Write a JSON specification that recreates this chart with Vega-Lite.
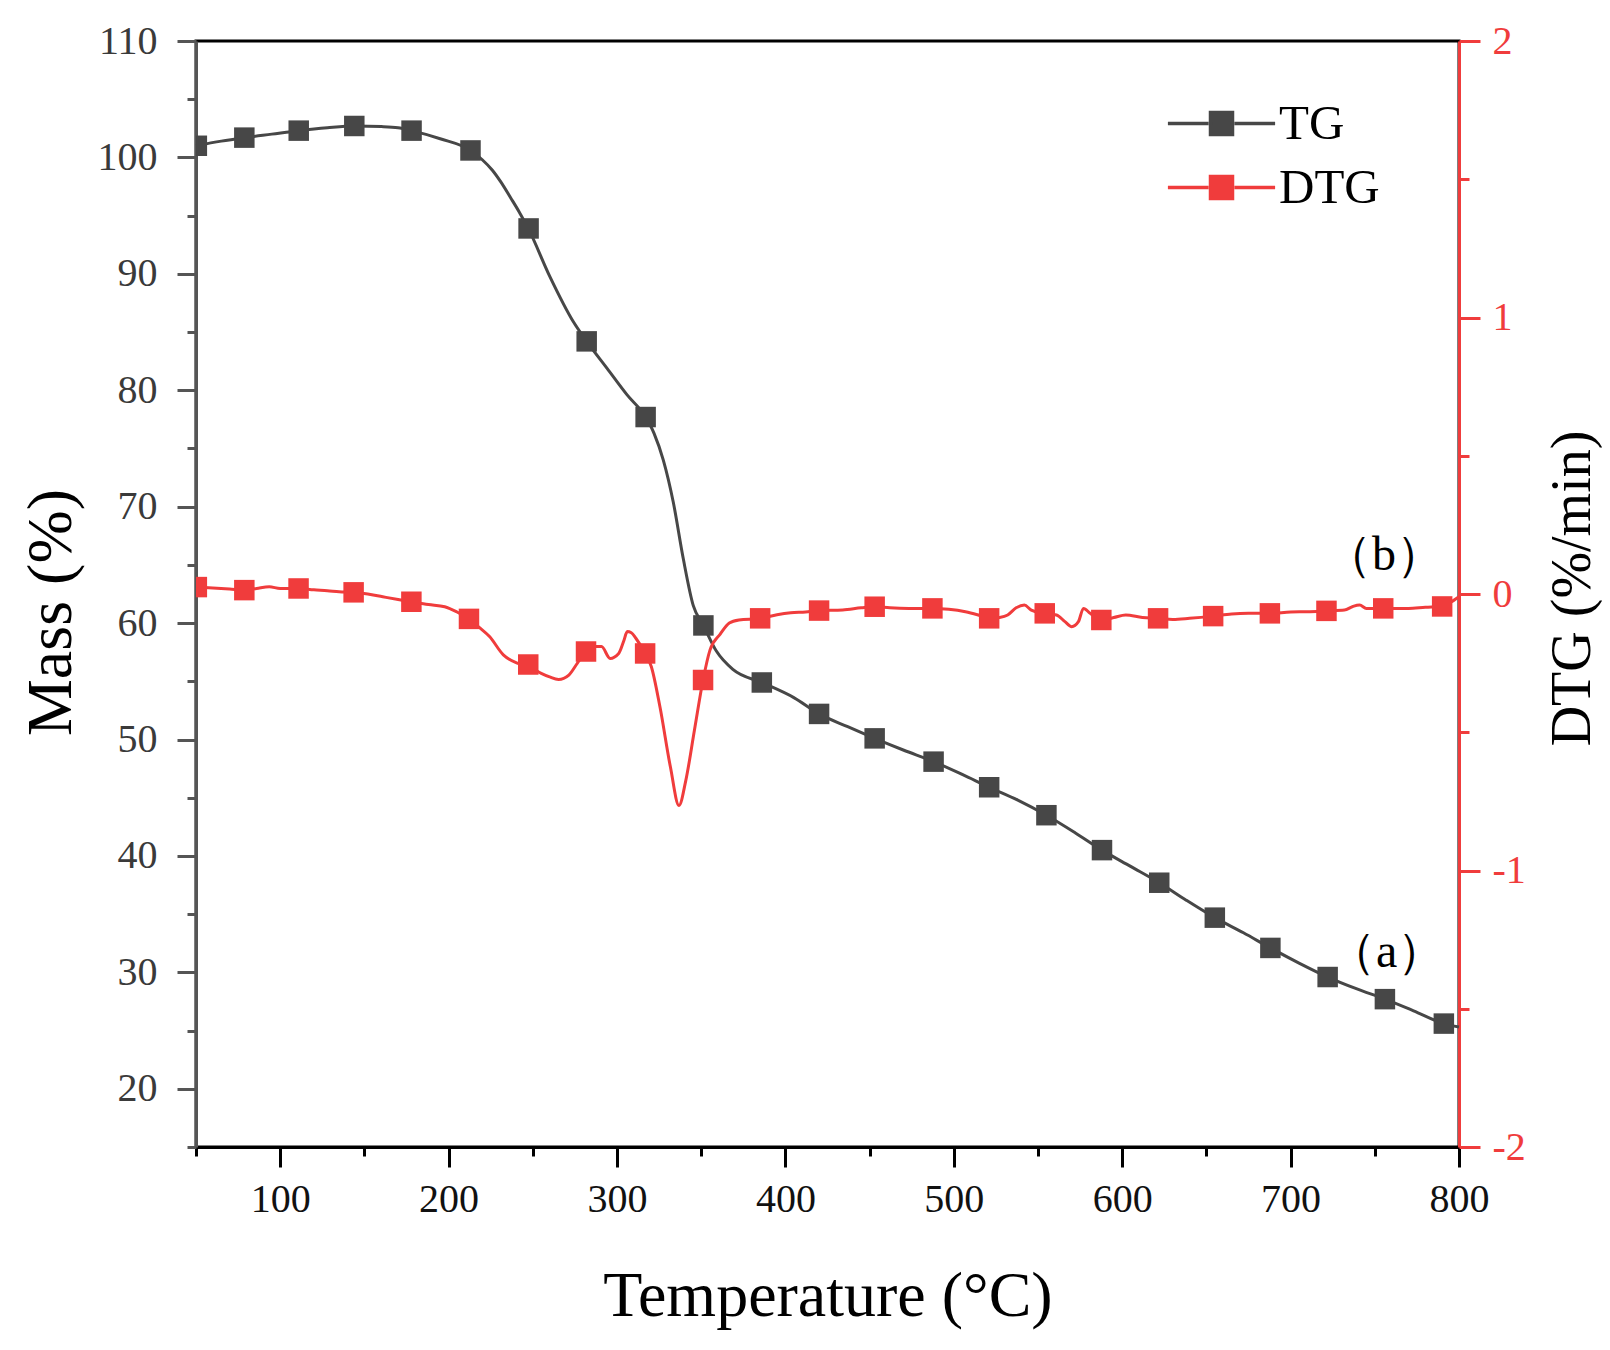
{
  "$schema": "https://vega.github.io/schema/vega-lite/v6.json",
  "width": 1263,
  "height": 1106,
  "autosize": {"type": "none"},
  "padding": {"left": 196, "top": 41, "right": 151, "bottom": 203},
  "config": {
    "view": {"stroke": "#000000", "strokeWidth": 3},
    "font": "Liberation Serif",
    "legend": {
      "orient": "none",
      "legendX": 1001,
      "legendY": 58,
      "padding": 0,
      "title": null,
      "symbolType": "M-2.68,0H-0.65M0.65,0H2.68M-0.55,-0.55H0.55V0.55H-0.55Z",
      "symbolSize": 1600,
      "symbolStrokeWidth": 3.5,
      "labelFont": "Liberation Serif",
      "labelFontSize": 49,
      "labelColor": "#000000",
      "labelOffset": 33,
      "rowPadding": 14
    }
  },
  "datasets": {
    "tg_curve": [
      {"T": 50, "mass": 101.0}, {"T": 65, "mass": 101.4}, {"T": 79, "mass": 101.7},
      {"T": 95, "mass": 102.0}, {"T": 111, "mass": 102.3}, {"T": 128, "mass": 102.55},
      {"T": 144, "mass": 102.7}, {"T": 160, "mass": 102.65}, {"T": 170, "mass": 102.55},
      {"T": 178, "mass": 102.3}, {"T": 195, "mass": 101.6}, {"T": 213, "mass": 100.6},
      {"T": 220, "mass": 99.8}, {"T": 226, "mass": 98.9}, {"T": 231, "mass": 97.9},
      {"T": 237, "mass": 96.5}, {"T": 242, "mass": 95.3},
      {"T": 247.3, "mass": 93.9}, {"T": 260, "mass": 89.8}, {"T": 274, "mass": 85.9},
      {"T": 282, "mass": 84.2}, {"T": 294, "mass": 81.9}, {"T": 306, "mass": 79.6},
      {"T": 317, "mass": 77.7}, {"T": 322, "mass": 76.3}, {"T": 327.5, "mass": 74.0},
      {"T": 333.4, "mass": 70.4}, {"T": 339.4, "mass": 65.5}, {"T": 345.3, "mass": 61.5},
      {"T": 351.3, "mass": 59.8}, {"T": 359, "mass": 57.6}, {"T": 369, "mass": 56.0},
      {"T": 386, "mass": 54.9}, {"T": 405, "mass": 53.6}, {"T": 420, "mass": 52.2},
      {"T": 437, "mass": 51.1}, {"T": 453, "mass": 50.1}, {"T": 470, "mass": 49.1},
      {"T": 488, "mass": 48.1}, {"T": 505, "mass": 47.0}, {"T": 521, "mass": 45.9},
      {"T": 538, "mass": 44.8}, {"T": 555, "mass": 43.5}, {"T": 572, "mass": 42.0},
      {"T": 588, "mass": 40.5}, {"T": 605, "mass": 39.1}, {"T": 622, "mass": 37.7},
      {"T": 638, "mass": 36.2}, {"T": 655, "mass": 34.7}, {"T": 672, "mass": 33.4},
      {"T": 688, "mass": 32.1}, {"T": 705, "mass": 30.8}, {"T": 722, "mass": 29.6},
      {"T": 739, "mass": 28.6}, {"T": 756, "mass": 27.7}, {"T": 773, "mass": 26.7},
      {"T": 791, "mass": 25.6}, {"T": 800, "mass": 25.3}
    ],
    "tg_marks": [
      {"T": 50.5, "mass": 101.0}, {"T": 78.7, "mass": 101.7}, {"T": 111, "mass": 102.3},
      {"T": 144, "mass": 102.7}, {"T": 178, "mass": 102.3}, {"T": 213, "mass": 100.6},
      {"T": 247.5, "mass": 93.9}, {"T": 282, "mass": 84.2}, {"T": 317, "mass": 77.7},
      {"T": 351.3, "mass": 59.8}, {"T": 386, "mass": 54.9}, {"T": 420, "mass": 52.2},
      {"T": 453, "mass": 50.1}, {"T": 488, "mass": 48.1}, {"T": 521, "mass": 45.9},
      {"T": 555, "mass": 43.5}, {"T": 588, "mass": 40.5}, {"T": 622, "mass": 37.7},
      {"T": 655, "mass": 34.7}, {"T": 688, "mass": 32.1}, {"T": 722, "mass": 29.6},
      {"T": 756, "mass": 27.7}, {"T": 791, "mass": 25.6}
    ],
    "dtg_curve": [
      {"T": 50, "dtg": 0.025}, {"T": 60, "dtg": 0.022}, {"T": 70, "dtg": 0.018},
      {"T": 78.7, "dtg": 0.014}, {"T": 86, "dtg": 0.02}, {"T": 93.5, "dtg": 0.026},
      {"T": 100, "dtg": 0.02}, {"T": 110.9, "dtg": 0.02}, {"T": 120, "dtg": 0.015},
      {"T": 128, "dtg": 0.012}, {"T": 135, "dtg": 0.008}, {"T": 143.6, "dtg": 0.006},
      {"T": 152, "dtg": 0.0}, {"T": 160.9, "dtg": -0.01}, {"T": 170, "dtg": -0.02},
      {"T": 177.9, "dtg": -0.028}, {"T": 188, "dtg": -0.038}, {"T": 197.7, "dtg": -0.046},
      {"T": 205, "dtg": -0.065}, {"T": 212.1, "dtg": -0.09}, {"T": 218, "dtg": -0.12},
      {"T": 224.3, "dtg": -0.154}, {"T": 232.5, "dtg": -0.22}, {"T": 240.7, "dtg": -0.25},
      {"T": 247.3, "dtg": -0.26}, {"T": 255, "dtg": -0.287}, {"T": 260, "dtg": -0.3},
      {"T": 265.3, "dtg": -0.309}, {"T": 271.4, "dtg": -0.293}, {"T": 276.5, "dtg": -0.25},
      {"T": 281.6, "dtg": -0.21}, {"T": 286, "dtg": -0.19}, {"T": 290.8, "dtg": -0.19},
      {"T": 295.9, "dtg": -0.233}, {"T": 301, "dtg": -0.215}, {"T": 304, "dtg": -0.17},
      {"T": 306.1, "dtg": -0.136}, {"T": 308.5, "dtg": -0.14}, {"T": 311.2, "dtg": -0.16},
      {"T": 316.7, "dtg": -0.215}, {"T": 320.4, "dtg": -0.263}, {"T": 325.5, "dtg": -0.408},
      {"T": 331.7, "dtg": -0.625}, {"T": 336.8, "dtg": -0.765}, {"T": 340.9, "dtg": -0.673},
      {"T": 346, "dtg": -0.492}, {"T": 351.1, "dtg": -0.311}, {"T": 355.2, "dtg": -0.203},
      {"T": 361.3, "dtg": -0.145}, {"T": 366.7, "dtg": -0.105}, {"T": 372.4, "dtg": -0.094},
      {"T": 385, "dtg": -0.088}, {"T": 395, "dtg": -0.075}, {"T": 403.2, "dtg": -0.068},
      {"T": 412, "dtg": -0.065}, {"T": 420, "dtg": -0.06}, {"T": 434, "dtg": -0.058},
      {"T": 445, "dtg": -0.05}, {"T": 453, "dtg": -0.046}, {"T": 462, "dtg": -0.05},
      {"T": 473.3, "dtg": -0.052}, {"T": 487.3, "dtg": -0.052}, {"T": 497, "dtg": -0.055},
      {"T": 506.9, "dtg": -0.064}, {"T": 514, "dtg": -0.075}, {"T": 521, "dtg": -0.088},
      {"T": 527, "dtg": -0.085}, {"T": 532, "dtg": -0.076}, {"T": 537, "dtg": -0.05},
      {"T": 541.9, "dtg": -0.04}, {"T": 546, "dtg": -0.058}, {"T": 554, "dtg": -0.07},
      {"T": 561, "dtg": -0.076}, {"T": 566, "dtg": -0.1}, {"T": 570, "dtg": -0.118},
      {"T": 574, "dtg": -0.1}, {"T": 577, "dtg": -0.052}, {"T": 581, "dtg": -0.07},
      {"T": 587.6, "dtg": -0.094}, {"T": 595, "dtg": -0.085}, {"T": 602.1, "dtg": -0.076},
      {"T": 612, "dtg": -0.085}, {"T": 621.3, "dtg": -0.088}, {"T": 630, "dtg": -0.092},
      {"T": 640, "dtg": -0.088}, {"T": 654, "dtg": -0.08}, {"T": 665, "dtg": -0.072},
      {"T": 675, "dtg": -0.07}, {"T": 687.7, "dtg": -0.07}, {"T": 700, "dtg": -0.065},
      {"T": 710, "dtg": -0.064}, {"T": 721.3, "dtg": -0.061}, {"T": 732, "dtg": -0.058},
      {"T": 737, "dtg": -0.045}, {"T": 741, "dtg": -0.04}, {"T": 745, "dtg": -0.052},
      {"T": 755, "dtg": -0.052}, {"T": 770, "dtg": -0.052}, {"T": 780, "dtg": -0.048},
      {"T": 790, "dtg": -0.045}, {"T": 795, "dtg": -0.03}, {"T": 800, "dtg": -0.01}
    ],
    "dtg_marks": [
      {"T": 50.5, "dtg": 0.025}, {"T": 78.7, "dtg": 0.014}, {"T": 110.9, "dtg": 0.02},
      {"T": 143.6, "dtg": 0.006}, {"T": 177.9, "dtg": -0.028}, {"T": 212.1, "dtg": -0.09},
      {"T": 247.3, "dtg": -0.255}, {"T": 281.6, "dtg": -0.208}, {"T": 316.7, "dtg": -0.215},
      {"T": 351.1, "dtg": -0.311}, {"T": 385, "dtg": -0.088}, {"T": 420, "dtg": -0.06},
      {"T": 453, "dtg": -0.046}, {"T": 487.3, "dtg": -0.052}, {"T": 521, "dtg": -0.088},
      {"T": 554, "dtg": -0.07}, {"T": 587.6, "dtg": -0.094}, {"T": 621.3, "dtg": -0.088},
      {"T": 654, "dtg": -0.08}, {"T": 687.7, "dtg": -0.07}, {"T": 721.3, "dtg": -0.061},
      {"T": 755, "dtg": -0.052}, {"T": 790, "dtg": -0.045}
    ],
    "notes": [
      {"T": 757, "mass": 31.7, "label": "（a）"},
      {"T": 755.5, "mass": 65.8, "label": "（b）"}
    ]
  },
  "encoding": {
    "x": {
      "field": "T",
      "type": "quantitative",
      "scale": {"domain": [50, 800], "nice": false, "zero": false},
      "axis": {
        "title": "Temperature (°C)",
        "values": [50, 100, 150, 200, 250, 300, 350, 400, 450, 500, 550, 600, 650, 700, 750, 800],
        "labelExpr": "datum.value % 100 === 0 ? datum.label : ''",
        "format": "d",
        "grid": false,
        "domainColor": "#000000",
        "domainWidth": 3,
        "tickColor": "#000000",
        "tickWidth": 3,
        "tickSize": {"condition": {"test": "datum.value % 100 === 0", "value": 20}, "value": 9},
        "labelFont": "Liberation Serif",
        "labelFontSize": 40,
        "labelColor": "#111111",
        "labelPadding": 12,
        "labelFlush": false,
        "labelOverlap": false,
        "titleFont": "Liberation Serif",
        "titleFontSize": 64,
        "titleFontWeight": "normal",
        "titleColor": "#000000",
        "titleY": 168,
        "titleBaseline": "alphabetic"
      }
    }
  },
  "layer": [
    {
      "encoding": {
        "y": {
          "field": "mass",
          "type": "quantitative",
          "scale": {"domain": [15, 110], "nice": false, "zero": false},
          "axis": {
            "orient": "left",
            "title": "Mass (%)",
            "values": [15, 20, 25, 30, 35, 40, 45, 50, 55, 60, 65, 70, 75, 80, 85, 90, 95, 100, 105, 110],
            "labelExpr": "datum.value % 10 === 0 ? datum.label : ''",
            "grid": false,
            "domainColor": "#555555",
            "domainWidth": 3,
            "tickColor": "#555555",
            "tickWidth": 3,
            "tickSize": {"condition": {"test": "datum.value % 10 === 0", "value": 19}, "value": 9},
            "labelFont": "Liberation Serif",
            "labelFontSize": 40,
            "labelColor": "#3a3a3a",
            "labelPadding": 20,
            "labelOverlap": false,
            "labelFlush": false,
            "titleFont": "Liberation Serif",
            "titleFontSize": 64,
            "titleFontWeight": "normal",
            "titleColor": "#000000",
            "titleX": -145,
            "titleY": 571,
            "titleAngle": -90,
            "titleBaseline": "middle",
            "titleAlign": "center"
          }
        }
      },
      "layer": [
        {
          "data": {"name": "tg_curve"},
          "mark": {"type": "line", "interpolate": "monotone", "strokeWidth": 3},
          "encoding": {
            "color": {
              "datum": "TG",
              "type": "nominal",
              "scale": {"domain": ["TG", "DTG"], "range": ["#474747", "#f03c3c"]},
              "legend": {
                "encode": {
                  "symbols": {
                    "update": {
                      "fill": {"scale": "color", "field": "value"},
                      "stroke": {"scale": "color", "field": "value"},
                      "opacity": {"value": 1}
                    }
                  }
                }
              }
            }
          }
        },
        {
          "data": {"name": "tg_marks"},
          "mark": {"type": "square", "size": 420, "opacity": 1, "clip": true},
          "encoding": {"color": {"datum": "TG", "type": "nominal"}}
        },
        {
          "data": {"name": "notes"},
          "mark": {"type": "text", "font": "Liberation Serif", "fontSize": 48, "color": "#000000", "align": "center", "baseline": "middle"},
          "encoding": {"text": {"field": "label"}}
        }
      ]
    },
    {
      "encoding": {
        "y": {
          "field": "dtg",
          "type": "quantitative",
          "scale": {"domain": [-2, 2], "nice": false, "zero": false},
          "axis": {
            "orient": "right",
            "title": "DTG (%/min)",
            "values": [-2, -1.5, -1, -0.5, 0, 0.5, 1, 1.5, 2],
            "labelExpr": "datum.value % 1 === 0 ? (datum.value < 0 ? '-' + abs(datum.value) : '' + datum.value) : ''",
            "grid": false,
            "domainColor": "#f03c3c",
            "domainWidth": 3,
            "tickColor": "#f03c3c",
            "tickWidth": 3,
            "tickSize": {"condition": {"test": "datum.value % 1 === 0", "value": 21}, "value": 10},
            "labelFont": "Liberation Serif",
            "labelFontSize": 40,
            "labelColor": "#f03c3c",
            "labelPadding": 12,
            "labelOverlap": false,
            "labelFlush": false,
            "titleFont": "Liberation Serif",
            "titleFontSize": 56,
            "titleFontWeight": "normal",
            "titleColor": "#000000",
            "titleX": 113,
            "titleY": 547,
            "titleAngle": -90,
            "titleBaseline": "middle",
            "titleAlign": "center"
          }
        }
      },
      "layer": [
        {
          "data": {"name": "dtg_curve"},
          "mark": {"type": "line", "interpolate": "monotone", "strokeWidth": 3},
          "encoding": {"color": {"datum": "DTG", "type": "nominal"}}
        },
        {
          "data": {"name": "dtg_marks"},
          "mark": {"type": "square", "size": 420, "opacity": 1, "clip": true},
          "encoding": {"color": {"datum": "DTG", "type": "nominal"}}
        }
      ]
    }
  ],
  "resolve": {"scale": {"y": "independent"}}
}
